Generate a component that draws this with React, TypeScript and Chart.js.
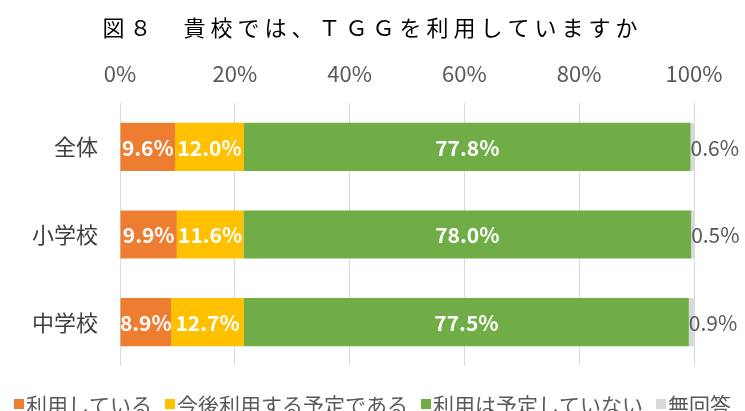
import React, { useEffect, useRef } from "react";
import { Chart, registerables } from "chart.js";

Chart.register(...registerables);

const TITLE = "図８　貴校では、ＴＧＧを利用していますか";
const categories = ["全体", "小学校", "中学校"];
const seriesNames = ["利用している", "今後利用する予定である", "利用は予定していない", "無回答"];
const seriesColors = ["#ED7D31", "#FFC000", "#70AD47", "#D9D9D9"];
const using = [9.6, 9.9, 8.9];
const planned = [12.0, 11.6, 12.7];
const notPlanned = [77.8, 78.0, 77.5];
const noAnswer = [0.6, 0.5, 0.9];
const xTicks = [0, 20, 40, 60, 80, 100];

const FONT = "'Noto Sans CJK JP', 'Noto Sans', sans-serif";

const labelPlugin = {
  id: "valueLabels",
  afterDatasetsDraw(chart: any) {
    const ctx = chart.ctx;
    ctx.save();
    chart.data.datasets.forEach((ds: any, i: number) => {
      const meta = chart.getDatasetMeta(i);
      meta.data.forEach((el: any, j: number) => {
        const v = ds.data[j];
        const txt = v.toFixed(1) + "%";
        if (i < 3) {
          ctx.font = `bold 21px ${FONT}`;
          ctx.fillStyle = "#FFFFFF";
          ctx.textAlign = "center";
          ctx.textBaseline = "middle";
          ctx.fillText(txt, (el.x + el.base) / 2, el.y + 1);
        } else {
          ctx.font = `21px ${FONT}`;
          ctx.fillStyle = "#595959";
          ctx.textAlign = "left";
          ctx.textBaseline = "middle";
          ctx.fillText(txt, el.base, el.y + 1);
        }
      });
    });
    ctx.restore();
  },
};

const titleLegendPlugin = {
  id: "titleLegend",
  afterDraw(chart: any) {
    const ctx = chart.ctx;
    const w = chart.width;
    ctx.save();
    // title
    ctx.font = `22px ${FONT}`;
    (ctx as any).letterSpacing = "5px";
    ctx.fillStyle = "#000000";
    ctx.textAlign = "left";
    ctx.textBaseline = "middle";
    const tw = ctx.measureText(TITLE).width;
    ctx.fillText(TITLE, (w - tw) / 2, 28);
    (ctx as any).letterSpacing = "0px";
    // legend
    ctx.font = `21px ${FONT}`;
    const box = 10;
    const gapText = 2;
    const gapItem = 13;
    const widths = seriesNames.map((n) => box + gapText + ctx.measureText(n).width);
    const total = widths.reduce((a, b) => a + b, 0) + gapItem * (seriesNames.length - 1);
    let x = (w - total) / 2;
    const y = 405;
    seriesNames.forEach((n, i) => {
      ctx.fillStyle = seriesColors[i];
      ctx.fillRect(x, y - box / 2 - 1, box, box);
      ctx.fillStyle = "#595959";
      ctx.textAlign = "left";
      ctx.textBaseline = "middle";
      ctx.fillText(n, x + box + gapText, y);
      x += widths[i] + gapItem;
    });
    ctx.restore();
  },
};

export default function App() {
  const ref = useRef<HTMLCanvasElement>(null);
  useEffect(() => {
    if (!ref.current) return;
    const values = [using, planned, notPlanned, noAnswer];
    const chart = new Chart(ref.current, {
      type: "bar",
      data: {
        labels: categories,
        datasets: seriesNames.map((name, i) => ({
          label: name,
          data: values[i],
          backgroundColor: seriesColors[i],
          borderWidth: 0,
          categoryPercentage: 1,
          barPercentage: 0.55,
        })),
      },
      options: {
        indexAxis: "y",
        animation: false,
        responsive: false,
        maintainAspectRatio: false,
        layout: { padding: { top: 50, left: 0, right: 51, bottom: 45 } },
        plugins: {
          legend: { display: false },
          title: { display: false },
          tooltip: { enabled: false },
        },
        scales: {
          x: {
            position: "top",
            stacked: true,
            min: 0,
            max: 100,
            afterBuildTicks: (s: any) => {
              s.ticks = xTicks.map((v) => ({ value: v }));
            },
            afterFit: (s: any) => {
              s.height = 53;
            },
            ticks: {
              padding: 16,
              color: "#595959",
              font: { family: FONT, size: 22 },
              callback: (v: any) => v + "%",
            },
            grid: { color: "#D9D9D9", lineWidth: 1, drawTicks: false },
            border: { display: false },
          },
          y: {
            stacked: true,
            afterFit: (s: any) => {
              s.width = 120;
            },
            ticks: {
              padding: 22,
              color: "#404040",
              font: { family: FONT, size: 22 },
            },
            grid: { display: false, drawTicks: false },
            border: { display: false },
          },
        },
      },
      plugins: [labelPlugin, titleLegendPlugin],
    } as any);
    return () => chart.destroy();
  }, []);
  return (
    <div style={{ position: "fixed", left: 0, top: 0, width: 745, height: 411, background: "#fff" }}>
      <canvas ref={ref} width={745} height={411} style={{ width: 745, height: 411 }} />
    </div>
  );
}
